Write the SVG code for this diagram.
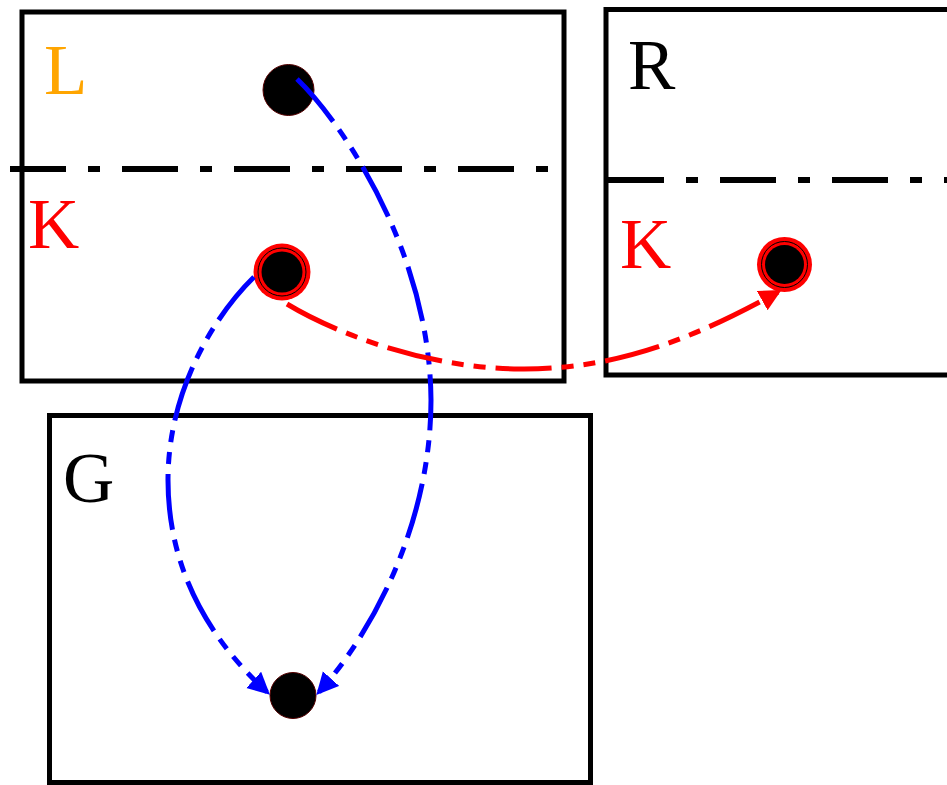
<svg xmlns="http://www.w3.org/2000/svg" width="947" height="785" viewBox="0 0 947 785">
<style>
.box{fill:none;stroke:#000;stroke-width:5}
.sep{stroke:#000;stroke-width:6;stroke-dasharray:56 22 12 22;fill:none}
.lbl{font-family:"Liberation Serif",serif;font-size:71px}
.node{fill:#000;stroke:#500;stroke-width:1}
.edge{fill:none;stroke-width:5;stroke-dasharray:56 10 12 10 12 10}
</style>
<defs>
<marker id="ab" markerUnits="userSpaceOnUse" markerWidth="24" markerHeight="24" refX="18" refY="11" orient="auto"><path d="M0,0 L22,11 L0,22 z" fill="#00f"/></marker>
<marker id="ar" markerUnits="userSpaceOnUse" markerWidth="24" markerHeight="24" refX="18" refY="11" orient="auto"><path d="M0,0 L22,11 L0,22 z" fill="#f00"/></marker>
</defs>
<g id="L">
<rect class="box" x="22" y="12" width="542" height="369"/>
<line class="sep" x1="10" y1="169" x2="558" y2="169"/>
<text class="lbl" x="44" y="94" fill="#FFA500">L</text>
<text class="lbl" x="28" y="248" fill="#F00">K</text>
</g>
<g id="R">
<rect class="box" x="606" y="9.5" width="400" height="365.5"/>
<line class="sep" x1="608" y1="180" x2="947" y2="180"/>
<text class="lbl" x="628" y="89" fill="#000">R</text>
<text class="lbl" x="620" y="268" fill="#F00">K</text>
</g>
<g id="G">
<rect class="box" x="49.5" y="415.5" width="541" height="367"/>
<text class="lbl" x="63" y="502" fill="#000">G</text>
</g>
<g id="nL"><circle class="node" cx="288.5" cy="90" r="25.5"/></g>
<g id="nK1">
<circle cx="282" cy="272" r="28.5" fill="#f00"/>
<circle cx="282" cy="272" r="24" fill="none" stroke="#000" stroke-width="1"/>
<circle cx="282" cy="272" r="20.5" fill="#000"/>
</g>
<g id="nK2">
<circle cx="784.5" cy="264.5" r="27.5" fill="#f00"/>
<circle cx="784.5" cy="264.5" r="23" fill="none" stroke="#000" stroke-width="1"/>
<circle cx="784.5" cy="264.5" r="19.5" fill="#000"/>
</g>
<g id="nG"><circle class="node" cx="293" cy="695.5" r="23"/></g>
<g id="edges">
<path class="edge" stroke="#00f" marker-end="url(#ab)" d="M297,79 C340,120 430,250 431,400 C431,520 375,630 319,692"/>
<path class="edge" stroke="#00f" marker-end="url(#ab)" d="M254,277 C215,315 168,390 168,480 C168,570 210,640 267,692"/>
<path class="edge" stroke="#f00" marker-end="url(#ar)" d="M287,304 C330,330 420,368 520,369 C620,370 700,335 778,292"/>
</g>
</svg>
